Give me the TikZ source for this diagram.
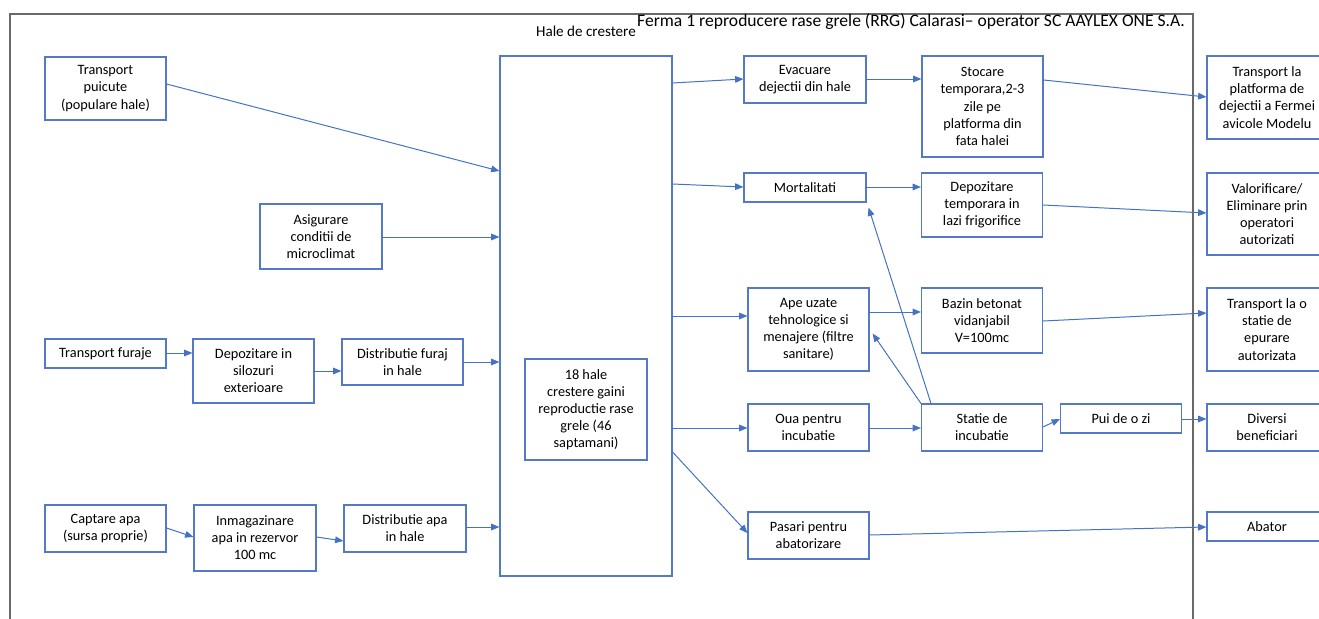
\documentclass[tikz,border=0pt]{standalone}
\usepackage{fontspec}
\setmainfont{Carlito}
\usetikzlibrary{arrows.meta}
\definecolor{boxblue}{RGB}{84,121,200}
\definecolor{arrowblue}{RGB}{68,114,196}
\definecolor{framegray}{RGB}{105,105,105}

\begin{document}
\begin{tikzpicture}[x=0.03cm,y=-0.03cm]
\tikzset{
  procnode/.style={rectangle,draw=boxblue,line width=0.95pt,align=center,inner sep=1pt,font=\fontsize{12.2}{14.6}\selectfont},
  flowedge/.style={draw=arrowblue,line width=0.85pt,line cap=round,line join=round},
  directed/.style={flowedge,-{Triangle[length=2.5mm,width=2.0mm]}},
  frameline/.style={draw=framegray,line width=1.1pt}
}
\useasboundingbox (0,0) rectangle (1319,619);
\draw[frameline] (10,619) -- (10,14) -- (1193,14) -- (1193,619);
\node[anchor=base west,inner sep=0pt,font=\fontsize{15}{18}\selectfont] (n_title) at (637,27) {Ferma 1 reproducere rase grele (RRG) Calarasi– operator SC AAYLEX ONE S.A.};
\node[anchor=base east,inner sep=0pt,font=\fontsize{12.9}{15}\selectfont] (n_halecap) at (636,37) {Hale de crestere};
% intrari
\node[procnode,minimum width=3.63cm,minimum height=1.89cm] (n_TP) at (105.5,88.5) {Transport\\puicute\\(populare hale)};
\node[procnode,minimum width=3.66cm,minimum height=1.95cm] (n_MC) at (321,236.5) {Asigurare\\conditii de\\microclimat};
\node[procnode,minimum width=3.63cm,minimum height=0.87cm] (n_TF) at (105.5,353.5) {Transport furaje};
\node[procnode,minimum width=3.63cm,minimum height=1.92cm] (n_DS) at (253.5,371) {Depozitare in\\silozuri\\exterioare};
\node[procnode,minimum width=3.63cm,minimum height=1.38cm] (n_DF) at (402.5,362) {Distributie furaj\\in hale};
\node[procnode,minimum width=3.63cm,minimum height=1.41cm] (n_CA) at (105.5,528.5) {Captare apa\\(sursa proprie)};
\node[procnode,minimum width=3.66cm,minimum height=1.98cm] (n_IA) at (255,538) {Inmagazinare\\apa in rezervor\\100 mc};
\node[procnode,minimum width=3.66cm,minimum height=1.41cm] (n_DA) at (405,528.5) {Distributie apa\\in hale};
% hale
\node[procnode,minimum width=5.16cm,minimum height=15.6cm] (n_HALL) at (586,316) {};
\node[procnode,minimum width=3.66cm,minimum height=3.03cm] (n_HB) at (586,409.5) {18 hale\\crestere gaini\\reproductie rase\\grele (46\\saptamani)};
% iesiri
\node[procnode,minimum width=3.66cm,minimum height=1.41cm] (n_EV) at (805,79.5) {Evacuare\\dejectii din hale};
\node[procnode,minimum width=3.63cm,minimum height=3.03cm] (n_ST) at (982.5,106.5) {Stocare\\temporara,2-3\\zile pe\\platforma din\\fata halei};
\node[procnode,minimum width=3.66cm,minimum height=0.87cm] (n_MO) at (805,187.5) {Mortalitati};
\node[procnode,minimum width=3.63cm,minimum height=1.92cm] (n_DT) at (982,205) {Depozitare\\temporara in\\lazi frigorifice};
\node[procnode,minimum width=3.63cm,minimum height=2.49cm] (n_AU) at (808.5,329.5) {Ape uzate\\tehnologice si\\menajere (filtre\\sanitare)};
\node[procnode,minimum width=3.63cm,minimum height=1.95cm] (n_BZ) at (982,320.5) {Bazin betonat\\vidanjabil\\V=100mc};
\node[procnode,minimum width=3.63cm,minimum height=1.41cm] (n_OU) at (808.5,427.5) {Oua pentru\\incubatie};
\node[procnode,minimum width=3.63cm,minimum height=1.41cm] (n_SI) at (982,427.5) {Statie de\\incubatie};
\node[procnode,minimum width=3.63cm,minimum height=0.87cm] (n_PZ) at (1121,418.5) {Pui de o zi};
\node[procnode,minimum width=3.63cm,minimum height=1.41cm] (n_PA) at (808.5,535.5) {Pasari pentru\\abatorizare};
% destinatii
\node[procnode,minimum width=3.6cm,minimum height=2.49cm] (n_TPL) at (1267,97.5) {Transport la\\platforma de\\dejectii a Fermei\\avicole Modelu};
\node[procnode,minimum width=3.6cm,minimum height=2.46cm] (n_VE) at (1267,214) {Valorificare/\\Eliminare prin\\operatori\\autorizati};
\node[procnode,minimum width=3.6cm,minimum height=2.49cm] (n_TSE) at (1267,329.5) {Transport la o\\statie de\\epurare\\autorizata};
\node[procnode,minimum width=3.6cm,minimum height=1.41cm] (n_DB) at (1267,427.5) {Diversi\\beneficiari};
\node[procnode,minimum width=3.6cm,minimum height=0.87cm] (n_AB) at (1267,526.5) {Abator};
% fluxuri intrare
\draw[directed] (n_TP.east |- 0,84) -- (n_HALL.west |- 0,171);
\draw[directed] (n_MC.east |- 0,237) -- (n_HALL.west |- 0,237);
\draw[directed] (n_TF.east |- 0,353) -- (n_DS.west |- 0,353);
\draw[directed] (n_DS.east |- 0,371) -- (n_DF.west |- 0,371);
\draw[directed] (n_DF.east |- 0,362) -- (n_HALL.west |- 0,362);
\draw[directed] (n_CA.east |- 0,528) -- (n_IA.west |- 0,537);
\draw[directed] (n_IA.east |- 0,537) -- (n_DA.west |- 0,541);
\draw[directed] (n_DA.east |- 0,527) -- (n_HALL.west |- 0,527);
% fluxuri iesire
\draw[directed] (n_HALL.east |- 0,83) -- (n_EV.west |- 0,79);
\draw[directed] (n_EV.east |- 0,79) -- (n_ST.west |- 0,79);
\draw[directed] (n_ST.east |- 0,80) -- (n_TPL.west |- 0,97);
\draw[directed] (n_HALL.east |- 0,184) -- (n_MO.west |- 0,187);
\draw[directed] (n_MO.east |- 0,187) -- (n_DT.west |- 0,187);
\draw[directed] (n_DT.east |- 0,205) -- (n_VE.west |- 0,213);
\draw[directed] (n_HALL.east |- 0,316) -- (n_AU.west |- 0,316);
\draw[directed] (n_AU.east |- 0,312) -- (n_BZ.west |- 0,312);
\draw[directed] (n_BZ.east |- 0,321) -- (n_TSE.west |- 0,313);
\draw[directed] (n_HALL.east |- 0,428) -- (n_OU.west |- 0,428);
\draw[directed] (n_OU.east |- 0,428) -- (n_SI.west |- 0,428);
\draw[directed] (n_SI.east |- 0,427) -- (n_PZ.west |- 0,419);
\draw[directed] (n_PZ.east |- 0,419) -- (n_DB.west |- 0,419);
\draw[directed] (n_HALL.east |- 0,452) -- (n_PA.west |- 0,533);
\draw[directed] (n_PA.east |- 0,535) -- (n_AB.west |- 0,527);
\draw[directed] (931,0 |- n_SI.north) -- ([shift={(2,5)}]n_MO.south east);
\draw[directed] (n_SI.north west) -- ([shift={(3,4)}]n_AU.east);
\end{tikzpicture}
\end{document}
